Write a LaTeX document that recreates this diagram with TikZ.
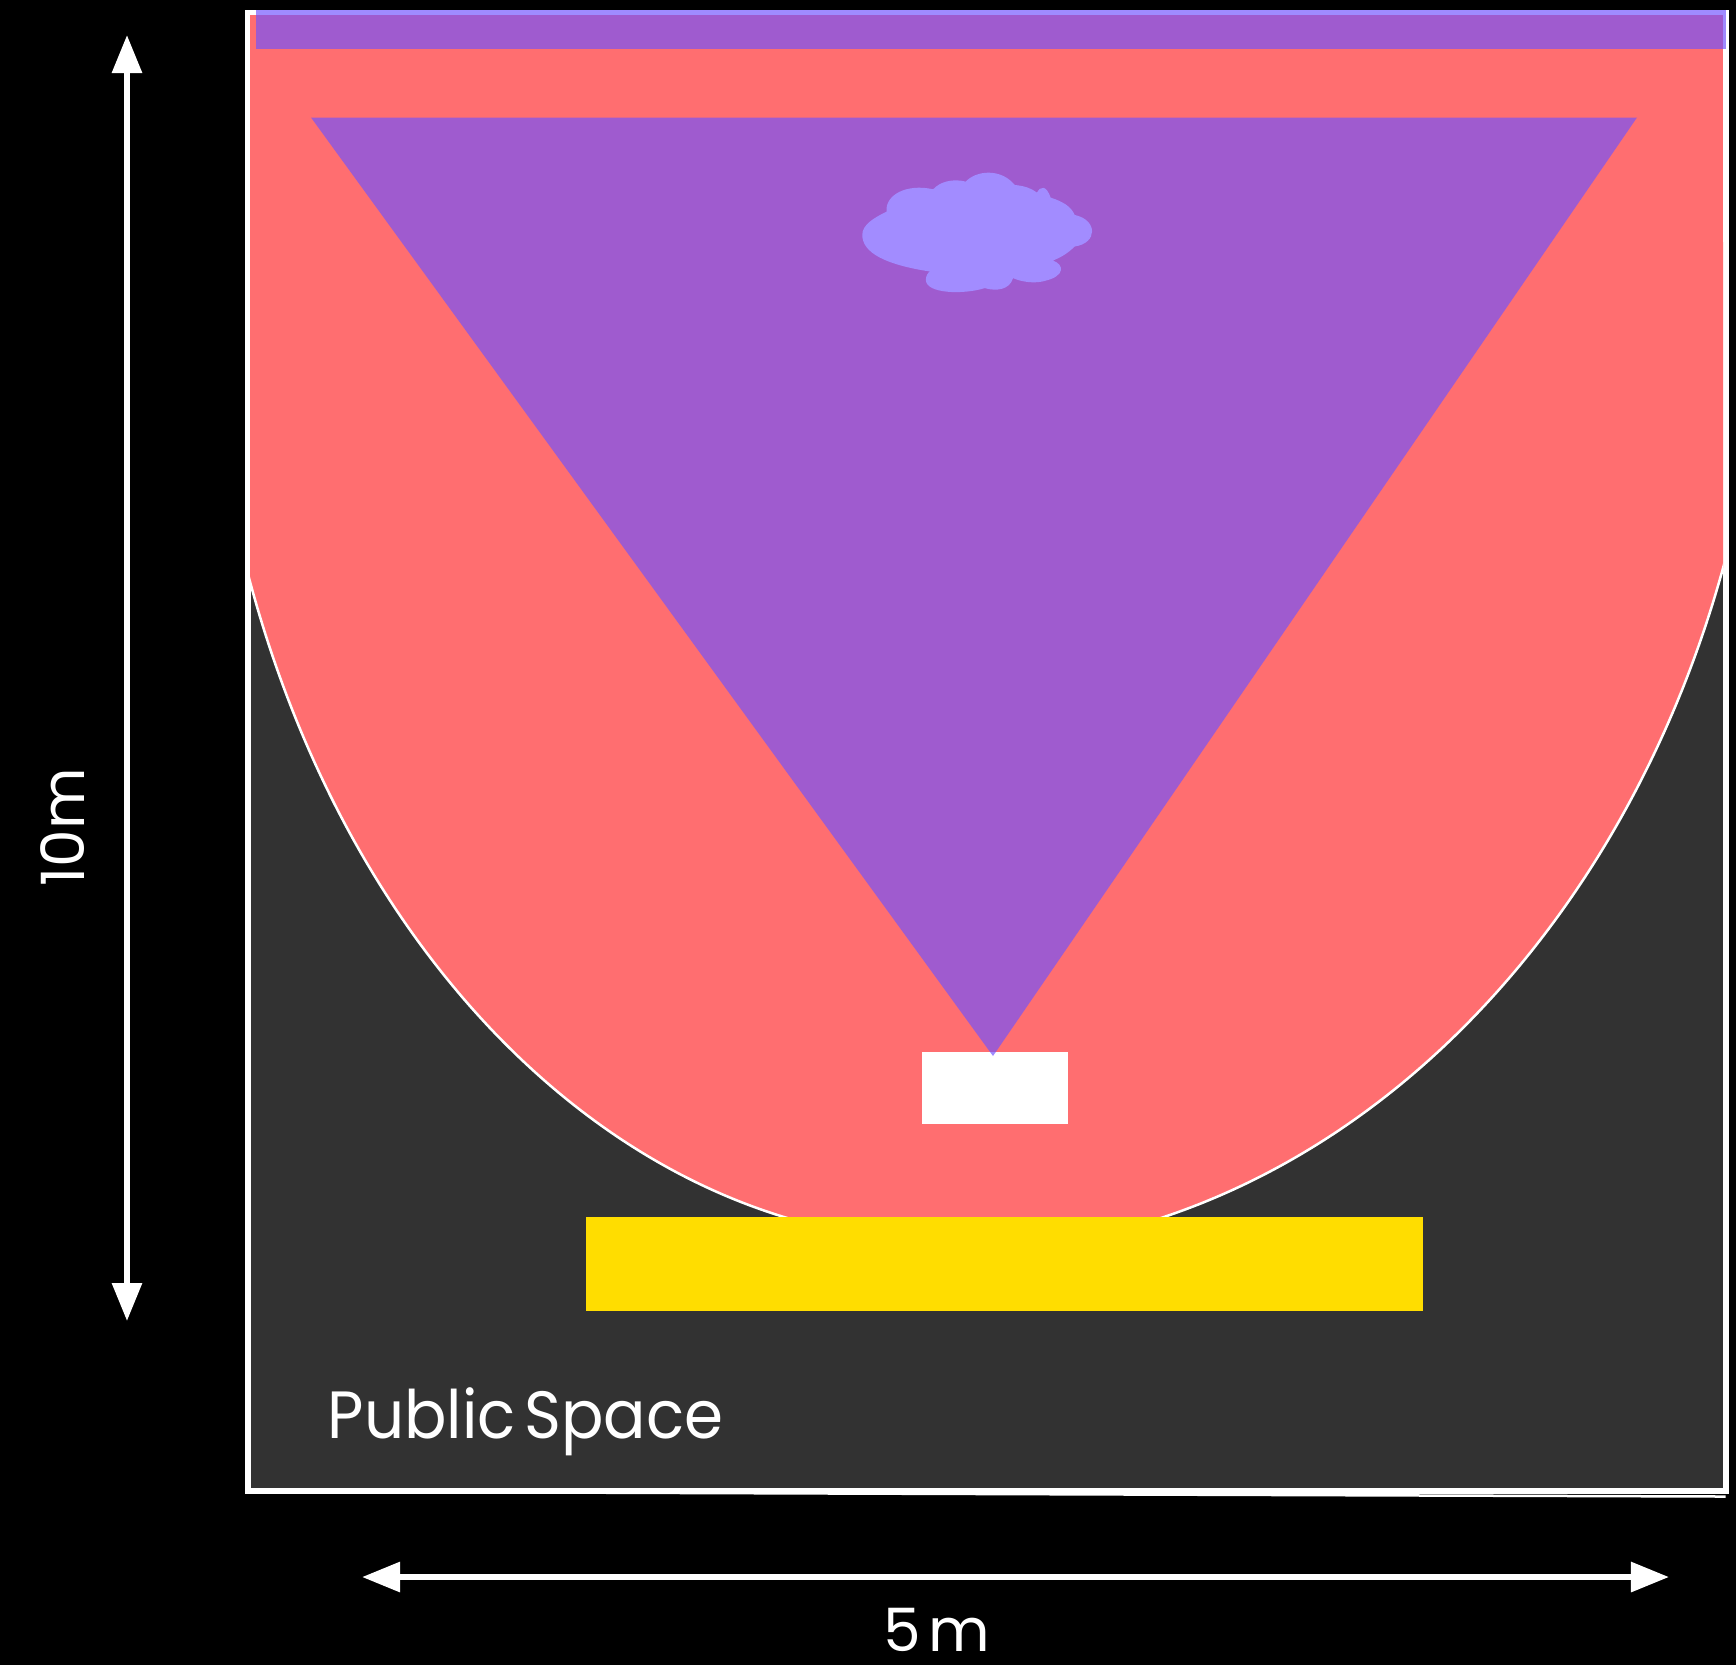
\documentclass[tikz,border=0pt]{standalone}
\usepackage{fontspec}
\setmainfont{Poppins}
\newfontfamily\narrowfont[FakeStretch=0.94]{Poppins}
\usetikzlibrary{arrows.meta}
\definecolor{roomdark}{RGB}{50,50,50}
\definecolor{zonered}{RGB}{255,110,112}
\definecolor{viewviolet}{RGB}{113,83,255}
\definecolor{cloudlav}{RGB}{162,140,255}
\definecolor{stageyellow}{RGB}{255,221,0}
\tikzset{
	dimarrow/.style={<->, white, line width=0.06cm},
	dimlabel/.style={text=white, inner sep=0pt, execute at begin node={\spaceskip=0.13em\relax}},
	viewzone/.style={fill=viewviolet, fill opacity=0.67}
}

\begin{document}
\begin{tikzpicture}[x=0.01cm, y=-0.01cm, every node/.style={font=\fontsize{17}{17}\selectfont}, >={Triangle[length=3.8mm,width=2.9mm]}]
	\fill[black] (0,0) rectangle (1736,1665);
	\draw[white, fill=roomdark, line width=0.06cm] (247.5,13) rectangle (1725.5,1491);
	\draw[white, line width=0.025cm] (247,1491.5) -- (1725.5,1496.5);
	\begin{scope}
		\clip (250,15) rectangle (1723,1217);
		\draw[white, fill=zonered, line width=0.025cm] (206,242) arc[start angle=180, end angle=90, x radius=744, y radius=1000] -- (950,1252) arc[start angle=90, end angle=0, x radius=816.5, y radius=1010] -- cycle;
		\fill[zonered] (250,15) rectangle (1723,300);
	\end{scope}
	\fill[viewzone] (256,10) rectangle (1726,49);
	\fill[stageyellow] (586,1216.5) rectangle (1423,1310.5);
	\fill[white] (922,1051.5) rectangle (1068,1123.5);
	\fill[viewzone] (311,117.5) -- (1637,117.5) -- (993,1056) -- cycle;
	\begin{scope}[shift={(820,150)}, x=0.00333cm, y=-0.00333cm]
		\fill[cloudlav] (127,255) .. controls (127,225) and (160,205) .. (200,185)
			.. controls (195,135) and (260,100) .. (340,118)
			.. controls (360,95) and (400,85) .. (438,95)
			.. controls (470,60) and (545,55) .. (585,105)
			.. controls (615,108) and (635,115) .. (652,128)
			.. controls (662,108) and (680,105) .. (693,143)
			.. controls (730,155) and (755,170) .. (765,195)
			.. controls (835,210) and (835,280) .. (765,290)
			.. controls (745,310) and (725,322) .. (700,332)
			.. controls (735,345) and (735,378) .. (680,392)
			.. controls (650,402) and (610,398) .. (580,385)
			.. controls (570,420) and (530,425) .. (495,415)
			.. controls (430,435) and (318,432) .. (318,390)
			.. controls (318,378) and (325,368) .. (330,365)
			.. controls (200,345) and (127,310) .. (127,255) -- cycle;
	\end{scope}
	\coordinate (heighttop) at (127,35);
	\coordinate (heightbottom) at (127,1321);
	\coordinate (widthleft) at (362,1577);
	\coordinate (widthright) at (1669,1577);
	\draw[dimarrow] (heighttop) -- (heightbottom);
	\draw[dimarrow] (widthleft) -- (widthright);
	\node[dimlabel, anchor=base west, font=\fontsize{19}{19}\narrowfont] (publicspace) at (327,1438) {Public Space};
	\node[dimlabel, anchor=base, rotate=90] (heightlabel) at (84,827) {10m};
	\node[dimlabel, anchor=base] (widthlabel) at (937,1651) {5 m};
\end{tikzpicture}
\end{document}
